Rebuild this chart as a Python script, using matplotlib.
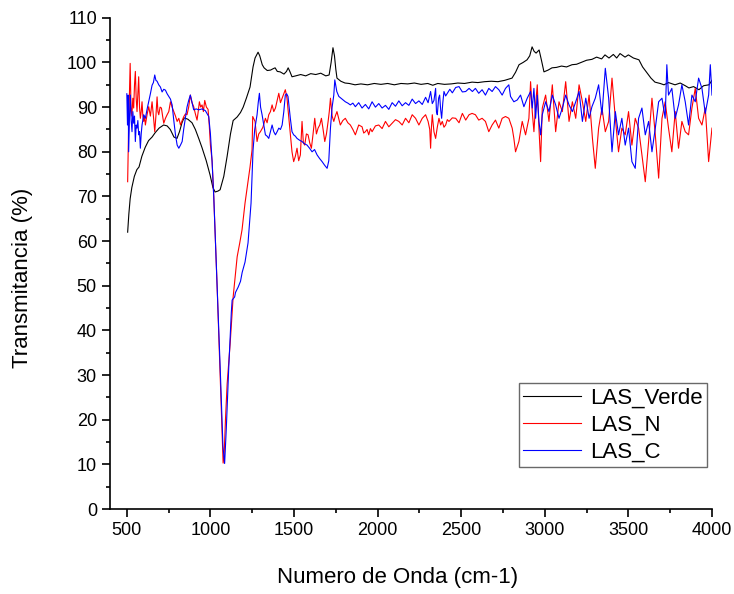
import matplotlib
matplotlib.use('Agg')
import matplotlib.pyplot as plt
from matplotlib.ticker import MultipleLocator

plt.rcParams['font.family'] = ['Liberation Sans', 'DejaVu Sans']

# LAS_Verde (black)
verde_wn = [
    505, 512, 520, 530, 545, 560, 573, 590, 610, 630,
    651, 670, 693, 720, 741, 760, 782, 800, 815, 830,
    842, 865, 890, 910, 930, 950, 975, 998, 1015, 1028,
    1045, 1058, 1080, 1100, 1120, 1136, 1160, 1180, 1196, 1215,
    1237, 1255, 1267, 1285, 1295, 1310, 1321, 1340, 1360, 1375,
    1387, 1400, 1417, 1440, 1455, 1465, 1475, 1488, 1510, 1540,
    1570, 1600, 1630, 1660, 1690, 1710, 1722, 1733, 1742, 1750,
    1757, 1780, 1805, 1830, 1865, 1900, 1940, 1980, 2020, 2060,
    2100, 2140, 2180, 2220, 2260, 2300, 2330, 2360, 2400, 2440,
    2480, 2520, 2565, 2600, 2640, 2680, 2720, 2760, 2804, 2825,
    2846, 2870, 2894, 2910, 2924, 2936, 2948, 2966, 2980, 2995,
    3020, 3043, 3070, 3100, 3130, 3163, 3190, 3223, 3250, 3282,
    3310, 3340, 3360, 3384, 3410, 3430, 3450, 3480, 3500, 3530,
    3563, 3585, 3611, 3635, 3659, 3690, 3713, 3740, 3779, 3810,
    3840, 3862, 3890, 3922, 3950, 3982, 4000,
]
verde_t = [
    62.0, 66.0, 69.5, 72.0, 74.5, 76.0, 76.6, 79.0, 81.0, 82.5,
    83.3, 84.3, 85.3, 86.0, 85.8, 85.0, 83.3, 83.0, 84.5, 86.5,
    87.6, 87.3, 86.5, 85.0, 83.0, 80.9, 78.0, 74.8, 72.0, 71.0,
    71.2, 71.5, 74.5, 79.0, 84.0, 87.0, 87.8, 88.8, 90.0, 92.0,
    94.5, 99.0, 101.0, 102.3, 101.5, 99.5, 98.8, 98.2, 98.3, 98.6,
    98.8, 98.0, 97.9, 97.4, 98.0, 98.8, 98.0, 96.8, 97.0, 97.3,
    97.0, 97.5, 97.3, 97.6, 97.0, 97.2, 100.0, 103.3, 101.5, 98.5,
    96.5, 95.8, 95.4, 95.3, 95.0, 95.2, 95.0, 95.3, 95.1, 95.3,
    95.0, 95.3, 95.2, 95.4, 95.1, 95.3, 94.9, 95.3, 95.1, 95.2,
    95.4, 95.3, 95.6, 95.5, 95.7, 95.8, 95.7, 96.0, 96.5, 97.8,
    99.5, 100.0, 100.6, 101.5, 103.5, 102.5, 102.1, 102.8, 100.5, 97.9,
    98.3, 98.8, 98.9, 99.2, 99.0, 99.5, 99.6, 100.1, 100.5, 100.7,
    101.2, 100.8, 101.7, 101.0, 101.8, 101.0, 102.0, 101.2, 101.7, 101.0,
    100.6, 99.0, 97.7, 96.5, 95.6, 95.3, 95.0, 95.5, 95.0, 95.4,
    94.8, 94.3, 94.6, 93.9, 94.8, 95.0, 96.0,
]

# LAS_N (red)
n_wn = [
    505, 510, 515, 520, 525, 530, 536, 541, 546, 551,
    556, 561, 566, 571, 576, 581, 586, 591, 596, 601,
    606, 611, 621, 631, 641, 651, 659, 667, 674, 681,
    686, 691, 699, 707, 714, 721, 731, 741, 751, 761,
    771, 781, 791, 801, 811, 821, 831, 841, 851, 860,
    870, 880, 890, 900, 910, 920, 927, 934, 942, 950,
    958, 966, 976, 986, 993, 1000, 1010, 1020, 1040, 1060,
    1076, 1082, 1090, 1100, 1118, 1136, 1160, 1175, 1189, 1207,
    1222, 1237, 1249, 1253, 1267, 1279, 1289, 1299, 1314, 1329,
    1339, 1349, 1359, 1369, 1379, 1389, 1399, 1409, 1419, 1429,
    1439, 1448, 1458, 1468, 1478, 1488, 1498, 1508, 1518, 1528,
    1538, 1548, 1556, 1564, 1574, 1584, 1594, 1604, 1614, 1624,
    1634, 1644, 1654, 1664, 1674, 1684, 1694, 1704, 1711, 1718,
    1728, 1738, 1747, 1757, 1767, 1777, 1792, 1807, 1822, 1837,
    1852, 1867, 1887, 1907, 1917, 1927, 1937, 1947, 1957, 1967,
    1987, 2007, 2027, 2047, 2067, 2087, 2107, 2127, 2147, 2167,
    2187, 2207, 2227, 2247, 2267, 2287, 2302, 2312, 2317, 2322,
    2327, 2337, 2347, 2357, 2367, 2377, 2387, 2397, 2407, 2417,
    2427, 2447, 2467, 2487, 2507, 2527, 2547, 2565, 2585, 2605,
    2625, 2645, 2665, 2685, 2705, 2725, 2745, 2765, 2785, 2805,
    2815, 2825, 2845, 2865, 2885, 2905, 2915, 2925, 2935, 2945,
    2955, 2965, 2975, 2985, 3005, 3025, 3045, 3065, 3085, 3105,
    3125, 3145, 3165, 3185, 3205, 3225, 3245, 3265, 3285, 3302,
    3322, 3342, 3362, 3382, 3402, 3422, 3441, 3461, 3481, 3501,
    3521, 3541, 3561, 3581, 3601, 3621, 3641, 3661, 3681, 3701,
    3720, 3740, 3760, 3780, 3800, 3820, 3840, 3860, 3880, 3900,
    3920, 3940, 3960, 3980, 4000,
]
n_t = [
    73.3, 84.0, 92.0, 99.8, 90.0, 88.0, 92.0, 89.8, 95.0, 98.0,
    92.0, 89.0, 93.0, 96.8, 90.0, 87.5, 89.0, 91.2, 88.0, 86.8,
    88.0, 86.0, 88.3, 90.1, 88.0, 91.2, 88.0, 84.5, 88.0, 92.3,
    89.0, 88.3, 90.0, 89.8, 88.0, 86.4, 87.5, 88.3, 89.0, 91.2,
    90.0, 89.0, 88.0, 86.8, 87.5, 86.0, 87.0, 87.9, 88.5, 88.3,
    90.0, 92.7, 91.0, 90.1, 88.5, 87.1, 89.0, 91.2, 90.0, 90.5,
    89.0, 91.5, 90.0, 89.5, 86.0, 81.5, 78.0, 70.0, 50.0, 28.0,
    10.3, 12.0, 20.0, 28.0, 37.0, 47.5, 56.5, 59.5, 62.5, 68.5,
    72.5, 76.6, 80.4, 87.9, 86.8, 82.3, 84.0, 84.5, 85.5, 87.5,
    86.5, 88.3, 89.0, 90.5, 89.0, 89.8, 91.5, 93.1, 91.0, 92.0,
    93.0, 93.9, 92.0, 88.0, 83.8, 80.0, 77.8, 79.0, 80.8, 78.0,
    79.3, 86.8, 82.0, 81.5, 84.0, 83.8, 82.0, 80.8, 84.0, 87.5,
    84.0, 85.3, 86.0, 87.5, 85.0, 82.3, 84.0, 86.8, 89.0, 92.0,
    88.0, 86.8, 88.0, 89.0, 87.5, 86.0, 87.0, 87.5, 86.5, 86.0,
    85.0, 83.8, 86.0, 85.6, 84.2, 84.5, 85.0, 83.8, 85.2, 84.5,
    85.8, 86.0, 85.2, 86.8, 85.6, 86.4, 87.2, 86.8, 86.0, 87.5,
    86.5, 88.3, 87.5, 86.0, 87.5, 88.3, 86.8, 85.0, 80.8, 85.5,
    88.3, 84.5, 83.0, 85.5, 87.5, 86.0, 86.8, 85.5, 86.0, 87.2,
    86.8, 87.6, 87.5, 86.5, 88.6, 87.1, 88.3, 88.6, 88.3, 87.1,
    87.5, 86.8, 84.5, 86.0, 87.1, 85.3, 87.5, 87.9, 87.5, 85.3,
    83.0, 80.0, 82.3, 86.8, 83.8, 87.5, 95.7, 89.0, 84.5, 90.5,
    95.0, 85.3, 77.8, 89.8, 92.7, 86.8, 95.0, 84.5, 91.2, 89.0,
    95.7, 86.8, 91.2, 87.5, 95.0, 91.2, 86.8, 92.7, 83.0, 76.3,
    85.3, 89.8, 84.5, 86.8, 96.5, 87.5, 80.0, 85.3, 83.8, 89.0,
    81.5, 87.5, 85.3, 79.3, 73.3, 82.3, 92.0, 83.8, 74.1, 87.5,
    91.2, 85.3, 80.0, 89.0, 80.8, 86.8, 84.5, 83.8, 89.8, 94.2,
    87.5, 86.0, 89.8, 77.8, 85.3,
]

# LAS_C (blue)
c_wn = [
    500, 504, 508, 511, 516, 521, 526, 531, 536, 541,
    546, 551, 556, 561, 566, 571, 576, 581, 586, 591,
    601, 611, 621, 631, 641, 651, 659, 667, 674, 681,
    691, 701, 711, 721, 731, 741, 751, 761, 771, 781,
    791, 801, 811, 821, 831, 840, 850, 860, 870, 880,
    890, 900, 915, 930, 950, 970, 990, 1000, 1010, 1020,
    1040, 1060, 1075, 1085, 1095, 1110, 1125, 1130, 1145, 1150,
    1166, 1180, 1190, 1207, 1225, 1243, 1255, 1265, 1279, 1286,
    1293, 1300, 1309, 1319, 1329, 1339, 1349, 1359, 1369, 1379,
    1389, 1399, 1409, 1419, 1429, 1439, 1448, 1456, 1464, 1471,
    1478, 1488, 1498, 1508, 1518, 1533, 1548, 1563, 1578, 1593,
    1608, 1623, 1638, 1653, 1668, 1683, 1698, 1708, 1718, 1728,
    1738, 1744, 1756, 1768, 1787, 1807, 1822, 1837, 1852, 1867,
    1887, 1907, 1927, 1947, 1967, 1987, 2007, 2027, 2047, 2067,
    2087, 2107, 2127, 2147, 2167, 2187, 2207, 2227, 2247, 2267,
    2287, 2302, 2317, 2327, 2337, 2347, 2352, 2357, 2365, 2371,
    2377, 2383, 2390, 2397, 2407, 2417, 2432, 2447, 2467, 2487,
    2507, 2527, 2547, 2567, 2585, 2605, 2625, 2645, 2665, 2685,
    2705, 2725, 2745, 2765, 2785, 2795, 2815, 2835, 2855, 2875,
    2895, 2915, 2925, 2935, 2945, 2955, 2965, 2975, 2985, 3005,
    3025, 3045, 3065, 3085, 3105, 3125, 3145, 3165, 3185, 3205,
    3225, 3245, 3265, 3282, 3302, 3322, 3342, 3362, 3382, 3402,
    3422, 3441, 3461, 3481, 3501, 3521, 3541, 3561, 3581, 3601,
    3621, 3641, 3661, 3681, 3701, 3720, 3730, 3740, 3760, 3780,
    3800, 3820, 3840, 3860, 3880, 3900, 3920, 3940, 3960, 3980,
    3990, 4000,
]
c_t = [
    93.0, 86.0, 92.7, 80.0, 88.0, 92.7, 87.0, 84.5, 89.0, 86.4,
    88.0, 82.3, 86.0, 85.3, 87.0, 83.8, 84.5, 80.8, 84.0, 86.0,
    88.3, 87.5, 89.5, 91.2, 93.0, 94.9, 95.5, 97.2, 96.0, 95.8,
    95.0, 94.5, 93.4, 94.0, 93.8, 93.0, 92.4, 91.8, 90.5, 87.0,
    83.8, 81.5, 80.8, 81.5, 82.3, 85.0, 87.5, 90.0, 91.5, 92.7,
    91.0, 89.4, 89.6, 89.4, 89.6, 89.2, 87.9, 84.0, 77.8, 70.0,
    50.0, 30.0, 14.0, 10.2, 18.0, 32.0, 44.0, 46.8, 47.5, 48.5,
    49.7, 51.0, 53.0, 55.3, 59.6, 68.5, 80.4, 85.0, 88.3, 91.0,
    93.1, 90.0, 88.3, 86.0, 83.8, 83.5, 83.0, 84.5, 86.0, 84.5,
    83.8, 84.5, 85.3, 85.0, 86.0, 89.0, 92.7, 93.0, 92.4, 90.0,
    87.5, 84.5, 83.8, 83.5, 83.0, 82.6, 82.3, 81.8, 81.5, 80.8,
    80.0, 80.5, 79.3, 78.5, 77.8, 77.0, 76.3, 78.0, 85.3, 90.0,
    92.7, 96.1, 93.5, 92.4, 91.8, 91.2, 90.9, 90.5, 90.9, 90.1,
    91.0, 89.8, 90.6, 89.6, 91.2, 90.0, 90.8, 89.8, 90.4, 89.5,
    91.0, 90.2, 91.4, 90.3, 91.0, 90.4, 91.8, 90.8, 91.4, 90.6,
    92.2, 91.0, 93.5, 90.8, 91.5, 94.2, 89.0, 88.3, 92.0, 92.7,
    89.5, 87.5, 91.0, 93.5, 92.5, 93.1, 94.0, 93.2, 94.4, 94.6,
    93.4, 93.5, 94.2, 93.5, 94.2, 93.1, 93.9, 92.7, 94.2, 93.5,
    94.6, 93.9, 92.7, 94.2, 95.0, 92.4, 91.2, 91.6, 92.7, 90.1,
    92.0, 93.5, 89.8, 94.2, 87.5, 92.7, 86.8, 83.8, 88.3, 91.2,
    89.0, 92.7, 90.5, 87.5, 89.8, 92.7, 90.5, 89.0, 91.2, 93.5,
    86.8, 92.0, 87.5, 90.1, 92.0, 95.0, 88.3, 98.7, 92.0, 80.0,
    89.0, 83.8, 87.5, 81.5, 85.3, 77.8, 76.3, 87.5, 89.8, 83.8,
    86.8, 80.0, 85.3, 91.2, 92.0, 87.5, 99.5, 92.7, 94.2, 87.5,
    90.5, 95.0, 91.2, 86.0, 92.7, 91.2, 96.5, 94.2, 88.6, 92.7,
    99.5, 92.7,
]

fig = plt.figure(figsize=(7.34, 5.94), dpi=100)
ax = fig.add_axes([0.150, 0.143, 0.820, 0.827])

ax.plot(verde_wn, verde_t, color='black', lw=0.8, label='LAS_Verde')
ax.plot(n_wn, n_t, color='red', lw=0.8, label='LAS_N')
ax.plot(c_wn, c_t, color='blue', lw=0.8, label='LAS_C')

ax.set_xlim(400, 4000)
ax.set_ylim(0, 110)
ax.xaxis.set_major_locator(MultipleLocator(500))
ax.xaxis.set_minor_locator(MultipleLocator(250))
ax.yaxis.set_major_locator(MultipleLocator(10))
ax.yaxis.set_minor_locator(MultipleLocator(5))
ax.spines['top'].set_visible(False)
ax.spines['right'].set_visible(False)
ax.spines['left'].set_linewidth(1.2)
ax.spines['bottom'].set_linewidth(1.2)
ax.tick_params(which='major', direction='out', length=6, width=1.2, labelsize=13)
ax.tick_params(which='minor', direction='out', length=3, width=1.2)

ax.set_xlabel('Numero de Onda (cm-1)', fontsize=16)
ax.set_ylabel('Transmitancia (%)', fontsize=16)
ax.xaxis.set_label_coords(0.478, -0.118)
ax.yaxis.set_label_coords(-0.128, 0.47)

leg = ax.legend(loc='lower right', bbox_to_anchor=(0.992, 0.085), borderaxespad=0,
                fontsize=16, fancybox=False, edgecolor='#444444', handlelength=2.6,
                labelspacing=0.28, borderpad=0.2, handletextpad=0.4)
leg.get_frame().set_linewidth(1.0)

fig.savefig('out.png', dpi=100)
